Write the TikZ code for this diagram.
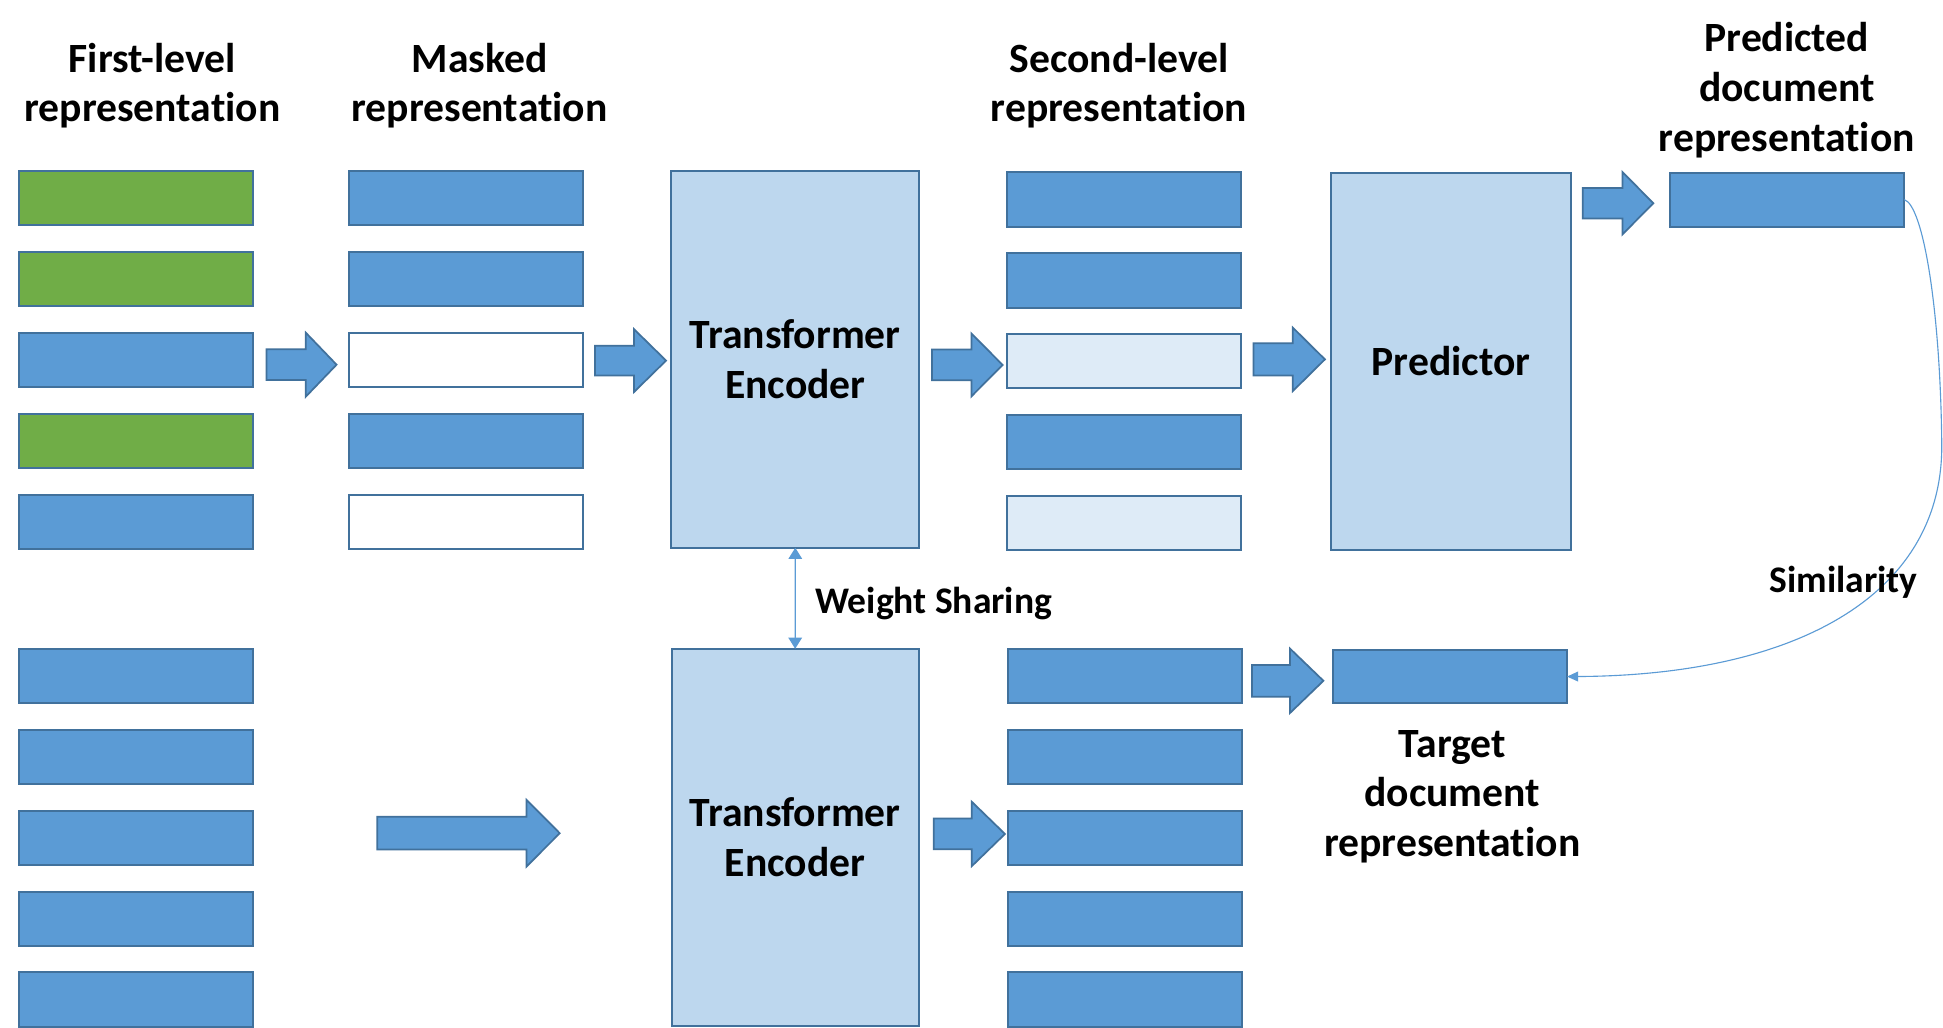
\documentclass[tikz,border=0pt]{standalone}
\usepackage{fontspec}
\setmainfont{Carlito}[Ligatures=NoCommon]
\usetikzlibrary{arrows.meta}
\definecolor{bfill}{HTML}{5B9BD5}
\definecolor{bline}{HTML}{41719C}
\definecolor{gfill}{HTML}{70AD47}
\definecolor{lfill}{HTML}{BDD7EE}
\definecolor{pfill}{HTML}{DEEBF7}
\newcommand\titlefont{\fontsize{33.6}{40}\selectfont\bfseries}
\newcommand\boxfont{\fontsize{33.6}{40}\selectfont\bfseries}
\newcommand\smallfont{\fontsize{30.3}{35}\selectfont\bfseries}
\tikzset{
 cell/.style={draw=bline, line width=1.6pt, minimum width=189pt, minimum height=44pt, inner sep=0pt, outer sep=0pt},
 bcell/.style={cell, fill=bfill},
 gcell/.style={cell, fill=gfill},
 wcell/.style={cell, fill=white},
 pcell/.style={cell, fill=pfill},
 bigbox/.style={draw=bline, line width=1.6pt, fill=lfill, inner sep=0pt, outer sep=0pt, align=center, font=\boxfont},
 ttl/.style={anchor=base, inner sep=0pt, font=\titlefont},
 barrowstyle/.style={draw=bline, fill=bfill, line width=1.4pt, line join=miter},
 thinline/.style={draw=bfill, line width=0.9pt}
}
\newcommand\barrow[6]{% tail base tip cy shafthalf headhalf
 \draw[barrowstyle] (#1,#4-#5) -- (#2,#4-#5) -- (#2,#4-#6) -- (#3,#4) -- (#2,#4+#6) -- (#2,#4+#5) -- (#1,#4+#5) -- cycle;}
\begin{document}
\begin{tikzpicture}[x=1pt,y=-1pt]
\useasboundingbox[fill=white] (0,0) rectangle (1568,829);

% titles
\node[ttl] (t1a) at (123,58.4) {First-level};
\node[ttl] (t1b) at (123,98.2) {representation};
\node[ttl] (t2a) at (387,58.4) {Masked};
\node[ttl] (t2b) at (387,98.2) {representation};
\node[ttl] (t3a) at (903,58.4) {Second-level};
\node[ttl] (t3b) at (903,98.2) {representation};
\node[ttl] (t4a) at (1442,41.5) {Predicted};
\node[ttl] (t4b) at (1442,82) {document};
\node[ttl] (t4c) at (1442,122.5) {representation};
\node[ttl] (t5a) at (1172,611) {Target};
\node[ttl] (t5b) at (1172,651) {document};
\node[ttl] (t5c) at (1172,691) {representation};

% first-level (top)
\node[gcell] (f1) at (110,159.7) {};
\node[gcell] (f2) at (110,225.1) {};
\node[bcell] (f3) at (110,290.5) {};
\node[gcell] (f4) at (110,355.8) {};
\node[bcell] (f5) at (110,421.2) {};
% masked
\node[bcell] (m1) at (375.8,159.7) {};
\node[bcell] (m2) at (375.8,225.1) {};
\node[wcell] (m3) at (375.8,290.5) {};
\node[bcell] (m4) at (375.8,355.8) {};
\node[wcell] (m5) at (375.8,421.2) {};
% encoder top
\node[bigbox, minimum width=200pt, minimum height=304.3pt] (te1) at (641.8,289.9) {Transformer\\Encoder};
% second-level top
\node[bcell] (s1) at (907.3,161) {};
\node[bcell] (s2) at (907.3,226.2) {};
\node[pcell] (s3) at (907.3,291.2) {};
\node[bcell] (s4) at (907.3,356.6) {};
\node[pcell] (s5) at (907.3,421.9) {};
% predictor
\node[bigbox, minimum width=194.1pt, minimum height=304.4pt] (pred) at (1171,291.6) {Predictor};
% predicted doc
\node[bcell, minimum height=43.4pt] (pd) at (1442.3,161.1) {};

% bottom first-level
\node[bcell] (bf1) at (109.7,545.5) {};
\node[bcell] (bf2) at (109.7,610.8) {};
\node[bcell] (bf3) at (109.7,676.2) {};
\node[bcell] (bf4) at (109.7,741.6) {};
\node[bcell] (bf5) at (109.7,806.4) {};
% bottom encoder
\node[bigbox, minimum width=199.4pt, minimum height=304.5pt] (te2) at (641.7,675.8) {Transformer\\Encoder};
% bottom second-level
\node[bcell] (bs1) at (907.7,545.5) {};
\node[bcell] (bs2) at (907.7,610.8) {};
\node[bcell] (bs3) at (907.7,676.2) {};
\node[bcell] (bs4) at (907.7,741.6) {};
\node[bcell] (bs5) at (907.7,806.4) {};
% target doc
\node[bcell, minimum height=43pt] (tgt) at (1170.1,546) {};

% block arrows
\barrow{215}{246.8}{271.6}{294.3}{12.4}{25.8}
\barrow{480.2}{511.6}{537.5}{291}{12}{25.4}
\barrow{752.2}{783.9}{809.1}{294.5}{12.4}{25.4}
\barrow{1011.6}{1043.3}{1069.2}{290}{13}{25.6}
\barrow{1277.3}{1309.3}{1334.2}{164}{12.3}{25.2}
\barrow{304.5}{424.9}{451.7}{672.4}{13.2}{26.9}
\barrow{753.5}{784.2}{811}{673}{12.4}{26}
\barrow{1010.4}{1041}{1068}{549.4}{12.8}{26}

% weight sharing
\draw[thinline, {Triangle[length=9pt,width=11pt]}-{Triangle[length=9pt,width=11pt]}] (te1.south) -- (te2.north);
\node[anchor=base west, inner sep=0pt, font=\smallfont] (ws) at (657.7,494.9) {Weight Sharing};

% similarity
\draw[thinline, -{Triangle[length=9pt,width=8pt]}] (pd.east) .. controls (1552,166) and (1566,250) .. (1567,360) .. controls (1567,480) and (1450,545) .. (tgt.east);
\node[anchor=base, inner sep=0pt, font=\smallfont] (sim) at (1487.8,478.4) {Similarity};
\end{tikzpicture}
\end{document}
